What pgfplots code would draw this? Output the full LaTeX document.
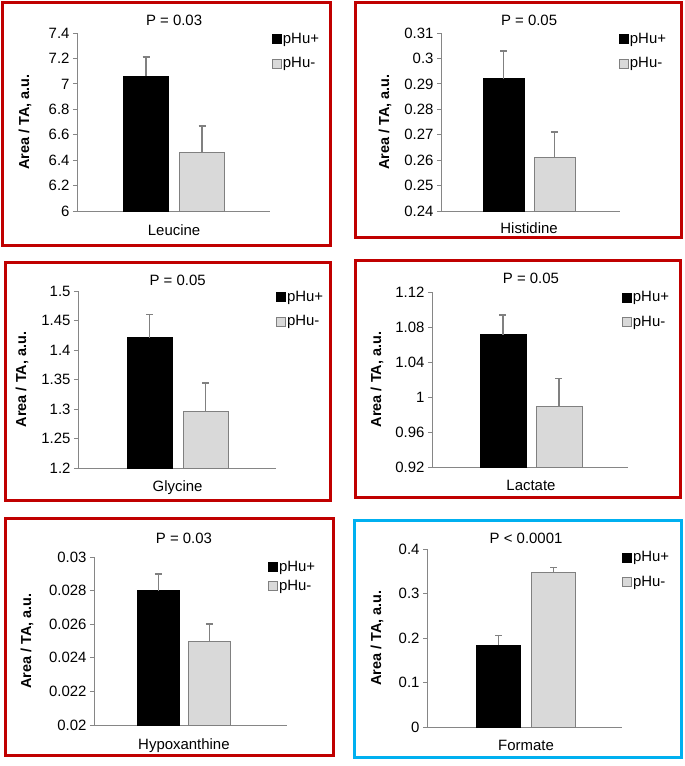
\documentclass[border=0pt]{standalone}
\usepackage{fontspec}
\setmainfont{Liberation Sans}
\usepackage{pgfplots}
\pgfplotsset{compat=1.18}
\definecolor{framered}{RGB}{192,0,0}
\definecolor{frameblue}{RGB}{0,176,240}
\definecolor{axgray}{RGB}{134,134,134}
\definecolor{barlight}{RGB}{217,217,217}
\definecolor{edgegray}{RGB}{128,128,128}
\newcommand{\fs}{\fontsize{15}{17}\selectfont}

\pgfplotsset{
  panel/.style={
    scale only axis, anchor=south west,
    xmin=0, xmax=1, xtick=\empty,
    axis x line*=bottom, axis y line*=left,
    axis line style={draw=axgray, line width=1bp, -},
    ytick style={draw=axgray, line width=1bp},
    tick align=outside, major tick length=4bp,
    scaled y ticks=false,
    yticklabel style={font=\fs, /pgf/number format/fixed,
      /pgf/number format/precision=3, /pgf/number format/assume math mode=true},
    every axis title shift=0pt,
    title style={font=\fs, anchor=base, inner sep=0pt},
    xlabel style={font=\fs, anchor=base, inner sep=0pt},
    ylabel style={font=\fontsize{14.5}{16}\selectfont\bfseries, anchor=center, inner sep=0pt},
    ylabel={Area / TA, a.u.},
    legend style={draw=none, fill=none, font=\fs, anchor=north west,
      inner sep=0pt, row sep=11bp, nodes={inner sep=1bp}},
    legend cell align=left,
  },
  % must come after ybar, which sets its own legend image
  sq legend/.style={legend image code/.code={%
    \draw[##1] (0bp,-4.5bp) rectangle (9bp,4.5bp);}},
  errs/.style={error bars/y dir=plus, error bars/y explicit,
    error bars/error bar style={draw=edgegray, line width=1.5bp},
    error bars/error mark options={rotate=90, draw=edgegray, mark size=3.5bp, line width=1.5bp}},
  hi/.style={fill=black, draw=black, line width=0.8bp, errs},
  lo/.style={fill=barlight, draw=edgegray, line width=0.8bp, errs},
}

\begin{document}
\begin{tikzpicture}
\useasboundingbox (0,0) rectangle (685bp,-766bp);
\fill[white] (0,0) rectangle (685bp,-766bp);

% Leucine
\begin{axis}[panel, at={(77bp,-211bp)}, width=193bp, height=178bp,
  ybar=11bp, bar width=45bp, sq legend,
  ymin=6, ymax=7.4, ytick={6,6.2,6.4,6.6,6.8,7,7.2,7.4},
  title={P = 0.03}, title style={at={(0.503,1)}, yshift=8bp},
  xlabel={Leucine}, xlabel style={at={(0.503,0)}, yshift=-24bp},
  ylabel style={at={(-0.269,0.5)}},
  legend style={at={(1.010,1.008)}}]
\addplot[hi] coordinates {(0.503,7.06) +- (0,0.15)};
\addplot[lo] coordinates {(0.503,6.46) +- (0,0.21)};
\legend{pHu+,pHu-}
\end{axis}

% Histidine
\begin{axis}[panel, at={(441bp,-211bp)}, width=179bp, height=178bp,
  ybar=10bp, bar width=41bp, sq legend,
  ymin=0.24, ymax=0.31, ytick={0.24,0.25,0.26,0.27,0.28,0.29,0.3,0.31},
  title={P = 0.05}, title style={at={(0.492,1)}, yshift=8bp},
  xlabel={Histidine}, xlabel style={at={(0.492,0)}, yshift=-22bp},
  ylabel style={at={(-0.313,0.5)}},
  legend style={at={(0.994,1.008)}}]
\addplot[hi] coordinates {(0.492,0.292) +- (0,0.011)};
\addplot[lo] coordinates {(0.492,0.261) +- (0,0.010)};
\legend{pHu+,pHu-}
\end{axis}

% Glycine
\begin{axis}[panel, at={(78bp,-468bp)}, width=198bp, height=177bp,
  ybar=11bp, bar width=45bp, sq legend,
  ymin=1.2, ymax=1.5, ytick={1.2,1.25,1.3,1.35,1.4,1.45,1.5},
  title={P = 0.05}, title style={at={(0.503,1)}, yshift=6bp},
  xlabel={Glycine}, xlabel style={at={(0.503,0)}, yshift=-23bp},
  ylabel style={at={(-0.283,0.5)}},
  legend style={at={(1.0,1.008)}}]
\addplot[hi] coordinates {(0.503,1.421) +- (0,0.039)};
\addplot[lo] coordinates {(0.503,1.296) +- (0,0.048)};
\legend{pHu+,pHu-}
\end{axis}

% Lactate
\begin{axis}[panel, at={(432bp,-467bp)}, width=196bp, height=175bp,
  ybar=10bp, bar width=46bp, sq legend,
  ymin=0.92, ymax=1.12, ytick={0.92,0.96,1,1.04,1.08,1.12},
  title={P = 0.05}, title style={at={(0.505,1)}, yshift=9bp},
  xlabel={Lactate}, xlabel style={at={(0.505,0)}, yshift=-23bp},
  ylabel style={at={(-0.281,0.5)}},
  legend style={at={(0.969,1.009)}}]
\addplot[hi] coordinates {(0.505,1.071) +- (0,0.023)};
\addplot[lo] coordinates {(0.505,0.989) +- (0,0.032)};
\legend{pHu+,pHu-}
\end{axis}

% Hypoxanthine
\begin{axis}[panel, at={(94bp,-725bp)}, width=193bp, height=168bp,
  ybar=9bp, bar width=42bp, sq legend,
  ymin=0.02, ymax=0.03, ytick={0.02,0.022,0.024,0.026,0.028,0.03},
  title={P = 0.03}, title style={at={(0.466,1)}, yshift=14bp},
  xlabel={Hypoxanthine}, xlabel style={at={(0.466,0)}, yshift=-24bp},
  ylabel style={at={(-0.347,0.5)}},
  legend style={at={(0.902,0.985)}, row sep=6bp}]
\addplot[hi] coordinates {(0.466,0.028) +- (0,0.001)};
\addplot[lo] coordinates {(0.466,0.025) +- (0,0.001)};
\legend{pHu+,pHu-}
\end{axis}

% Formate
\begin{axis}[panel, at={(427bp,-727bp)}, width=195bp, height=178bp,
  ybar=11bp, bar width=44bp, sq legend,
  ymin=0, ymax=0.4, ytick={0,0.1,0.2,0.3,0.4},
  title={P < 0.0001}, title style={at={(0.508,1)}, yshift=6bp},
  xlabel={Formate}, xlabel style={at={(0.508,0)}, yshift=-23bp},
  ylabel style={at={(-0.256,0.5)}},
  legend style={at={(1.0,0.992)}}]
\addplot[hi] coordinates {(0.508,0.184) +- (0,0.022)};
\addplot[lo] coordinates {(0.508,0.348) +- (0,0.011)};
\legend{pHu+,pHu-}
\end{axis}

% panel frames
\begin{scope}[line width=3bp]
\draw[framered] (2bp,-2bp) rectangle (330bp,-245bp);
\draw[framered] (355bp,-2bp) rectangle (681bp,-237bp);
\draw[framered] (5bp,-262bp) rectangle (330bp,-500bp);
\draw[framered] (355bp,-260bp) rectangle (680bp,-497bp);
\draw[framered] (5bp,-518bp) rectangle (333bp,-755bp);
\draw[frameblue] (354bp,-520bp) rectangle (681bp,-757bp);
\end{scope}
\end{tikzpicture}
\end{document}
